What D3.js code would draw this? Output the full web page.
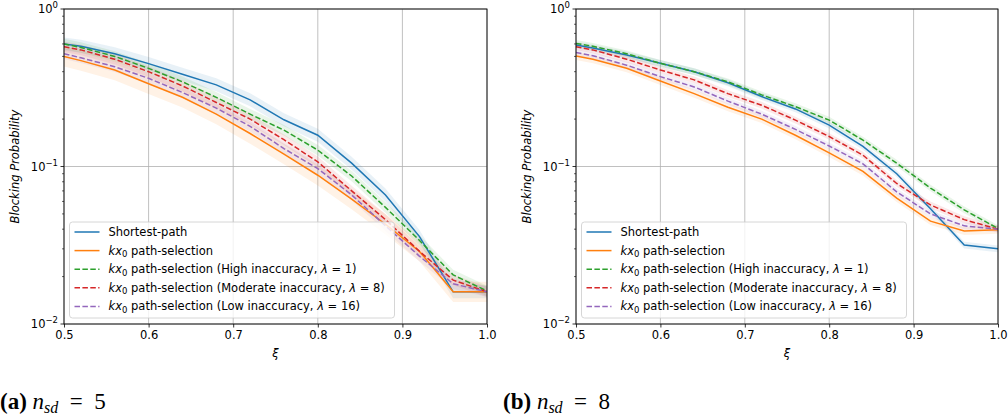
<!DOCTYPE html>
<html><head><meta charset="utf-8">
<script src="https://cdnjs.cloudflare.com/ajax/libs/d3/7.8.5/d3.min.js"></script>
<style>body{margin:0;background:#fff}svg{display:block}</style>
</head><body><svg id="c" width="1008" height="418"></svg>
<script>
const xVals = [0.5,0.52,0.56,0.6,0.64,0.68,0.72,0.76,0.8,0.84,0.88,0.92,0.96,1.0];
const xTicks = [0.5,0.6,0.7,0.8,0.9,1.0];
const yTicks = [1,0.1,0.01];
const yTickExp = ["0","\u22121","\u22122"];
const seriesKeys = ["shortest","kx0","high","moderate","low"];
const colors = ["#1f77b4","#ff7f0e","#2ca02c","#d62728","#9467bd"];
const dashedFlags = [false,false,true,true,true];
const legendSuffix = ["", "", " (High inaccuracy, ", " (Moderate inaccuracy, ", " (Low inaccuracy, "];
const legendLambda = [null,null,"1","8","16"];

// panel (a) n_sd = 5
const a_shortest = [0.60,0.58,0.52,0.45,0.385,0.33,0.265,0.198,0.158,0.105,0.066,0.036,0.016,0.016];
const a_kx0      = [0.50,0.47,0.41,0.335,0.275,0.215,0.162,0.12,0.088,0.062,0.043,0.029,0.016,0.016];
const a_high     = [0.60,0.57,0.50,0.42,0.345,0.275,0.215,0.17,0.127,0.087,0.055,0.034,0.0205,0.0162];
const a_moderate = [0.575,0.55,0.48,0.40,0.325,0.255,0.20,0.148,0.107,0.07,0.046,0.029,0.019,0.016];
const a_low      = [0.52,0.49,0.43,0.363,0.295,0.235,0.18,0.13,0.097,0.066,0.042,0.027,0.018,0.016];
const a_band     = [1.10,1.16,1.08,1.08,1.08];

// panel (b) n_sd = 8
const b_shortest = [0.59,0.565,0.51,0.452,0.40,0.34,0.278,0.232,0.183,0.134,0.09,0.054,0.0317,0.030];
const b_kx0      = [0.503,0.48,0.42,0.349,0.29,0.238,0.20,0.158,0.122,0.093,0.063,0.045,0.039,0.0396];
const b_high     = [0.605,0.58,0.52,0.452,0.40,0.345,0.285,0.24,0.197,0.147,0.105,0.073,0.053,0.0404];
const b_moderate = [0.576,0.55,0.48,0.41,0.355,0.29,0.245,0.197,0.155,0.118,0.078,0.057,0.046,0.040];
const b_low      = [0.53,0.505,0.44,0.372,0.32,0.26,0.215,0.172,0.135,0.104,0.069,0.05,0.042,0.040];
const b_band     = [1.05,1.06,1.05,1.05,1.05];

const panels = [
  {x0:64, x1:487, data:[a_shortest,a_kx0,a_high,a_moderate,a_low], band:a_band, caption:"a", nsd:"5", capX:0, ylabX:15},
  {x0:576, x1:998, data:[b_shortest,b_kx0,b_high,b_moderate,b_low], band:b_band, caption:"b", nsd:"8", capX:503, ylabX:527}
];

const svg = d3.select("#c");
const yTop = 9, yBot = 324;
const FONT = "'DejaVu Sans'";

panels.forEach((p, pi) => {
  const x = d3.scaleLinear().domain([0.5,1.0]).range([p.x0,p.x1]);
  const y = d3.scaleLog().domain([0.01,1]).range([yBot,yTop]);
  const g = svg.append("g");
  const clipId = "clip"+pi;
  svg.append("clipPath").attr("id",clipId).append("rect")
    .attr("x",p.x0).attr("y",yTop).attr("width",p.x1-p.x0).attr("height",yBot-yTop);

  // grid
  g.selectAll(".gx").data(xTicks).enter().append("line")
    .attr("x1",d=>x(d)).attr("x2",d=>x(d)).attr("y1",yTop).attr("y2",yBot)
    .attr("stroke","#b0b0b0").attr("stroke-width",0.8);
  g.selectAll(".gy").data(yTicks).enter().append("line")
    .attr("x1",p.x0).attr("x2",p.x1).attr("y1",d=>y(d)).attr("y2",d=>y(d))
    .attr("stroke","#b0b0b0").attr("stroke-width",0.8);

  const plot = g.append("g").attr("clip-path",`url(#${clipId})`);
  p.data.forEach((vals, si) => {
    const f = p.band[si];
    const area = d3.area().x((d,i)=>x(xVals[i])).y0(d=>y(d/f)).y1(d=>y(Math.min(d*f,1)));
    plot.append("path").datum(vals).attr("d",area)
      .attr("fill",colors[si]).attr("fill-opacity",0.1).attr("stroke","none");
  });
  p.data.forEach((vals, si) => {
    const line = d3.line().x((d,i)=>x(xVals[i])).y(d=>y(d));
    plot.append("path").datum(vals).attr("d",line)
      .attr("fill","none").attr("stroke",colors[si]).attr("stroke-width",1.5)
      .attr("stroke-dasharray",dashedFlags[si]?"5.5,2.4":null);
  });

  g.append("rect").attr("x",p.x0).attr("y",yTop).attr("width",p.x1-p.x0).attr("height",yBot-yTop)
    .attr("fill","none").attr("stroke","#000").attr("stroke-width",0.9);

  const xAxis = d3.axisBottom(x).tickValues(xTicks).tickFormat(d3.format(".1f")).tickSize(3.5).tickPadding(3.5);
  const xa = g.append("g").attr("transform",`translate(0,${yBot})`).call(xAxis);
  xa.select(".domain").remove();
  xa.selectAll("text").attr("font-family",FONT).attr("font-size",11.5).attr("fill","#000");
  xa.selectAll("line").attr("stroke","#000").attr("stroke-width",0.8);

  const minor = [];
  [0.01,0.1].forEach(dec => { for (let k=2;k<=9;k++) minor.push(dec*k); });
  g.selectAll(".ym").data(minor).enter().append("line")
    .attr("x1",p.x0).attr("x2",p.x0-2).attr("y1",d=>y(d)).attr("y2",d=>y(d))
    .attr("stroke","#000").attr("stroke-width",0.6);
  g.selectAll(".yM").data(yTicks).enter().append("line")
    .attr("x1",p.x0).attr("x2",p.x0-3.5).attr("y1",d=>y(d)).attr("y2",d=>y(d))
    .attr("stroke","#000").attr("stroke-width",0.8);
  yTicks.forEach((t, ti) => {
    const tx = g.append("text").attr("x",p.x0-6).attr("y",y(t)+4)
      .attr("text-anchor","end").attr("font-family",FONT).attr("font-size",11.5).attr("fill","#000");
    tx.append("tspan").text("10");
    tx.append("tspan").attr("dy",-5).attr("font-size",8.5).text(yTickExp[ti]);
  });

  g.append("text").attr("x",(p.x0+p.x1)/2).attr("y",357).attr("text-anchor","middle")
    .attr("font-family",FONT).attr("font-size",11.5).attr("font-style","italic").text("\u03be");
  g.append("text").attr("transform",`translate(${p.ylabX},${(yTop+yBot)/2}) rotate(-90)`)
    .attr("text-anchor","middle").attr("dy","0.35em")
    .attr("font-family",FONT).attr("font-size",11.5).attr("font-style","italic").text("Blocking Probability");

  const lx = p.x0+5.5, ly = 222, lw = 325, lh = 96;
  const lg = g.append("g");
  lg.append("rect").attr("x",lx).attr("y",ly).attr("width",lw).attr("height",lh).attr("rx",3)
    .attr("fill","#fff").attr("fill-opacity",0.8).attr("stroke","#cccccc").attr("stroke-width",0.8);
  seriesKeys.forEach((k, si) => {
    const yy = ly + 10 + si*18.6;
    lg.append("line").attr("x1",lx+5).attr("x2",lx+30).attr("y1",yy).attr("y2",yy)
      .attr("stroke",colors[si]).attr("stroke-width",1.5)
      .attr("stroke-dasharray",dashedFlags[si]?"5.5,2.4":null);
    const t = lg.append("text").attr("x",lx+39).attr("y",yy+4)
      .attr("font-family",FONT).attr("font-size",11.5).attr("fill","#000");
    if (si===0) { t.text("Shortest-path"); return; }
    t.append("tspan").attr("font-style","italic").text("kx");
    t.append("tspan").attr("font-size",8.5).attr("dy",2.5).text("0");
    t.append("tspan").attr("dy",-2.5).text(" path-selection"+legendSuffix[si]);
    if (legendLambda[si]) {
      t.append("tspan").attr("font-style","italic").text("\u03bb");
      t.append("tspan").text(" = "+legendLambda[si]+")");
    }
  });

  const cap = svg.append("text").attr("x",p.capX).attr("y",409)
    .attr("font-family","'Liberation Serif', 'DejaVu Serif', serif").attr("font-size",23).attr("fill","#000");
  cap.append("tspan").attr("font-weight","bold").text("("+p.caption+")");
  cap.append("tspan").attr("font-style","italic").text(" n");
  cap.append("tspan").attr("font-style","italic").attr("font-size",16).attr("dy",4).text("sd");
  cap.append("tspan").attr("dy",-4).text("\u2002=\u2002"+p.nsd);
});
</script>
</body></html>
